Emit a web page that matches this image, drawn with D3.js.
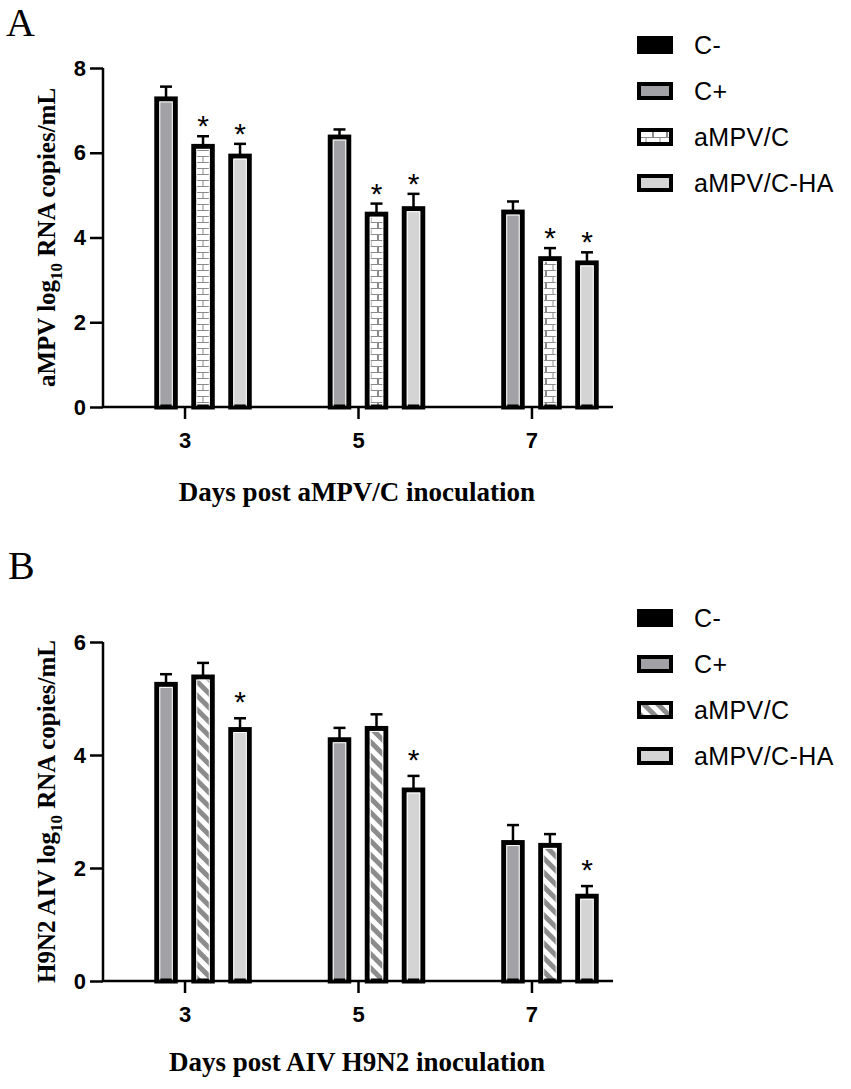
<!DOCTYPE html>
<html>
<head>
<meta charset="utf-8">
<script src="https://cdn.jsdelivr.net/npm/d3@7"></script>
<style>
  body { margin: 0; background: #fff; }
  svg { display: block; }
</style>
</head>
<body>
<div id="chart"></div>
<script>
const width = 851;
const height = 1089;

const days = ["3", "5", "7"];
const groups = ["C-", "C+", "aMPV/C", "aMPV/C-HA"];

// panel A: aMPV load (mean, sd) per group, per day
const aMean = {
  "C-": [0, 0, 0],
  "C+": [7.27, 6.37, 4.6],
  "aMPV/C": [6.15, 4.55, 3.5],
  "aMPV/C-HA": [5.92, 4.68, 3.4]
};
const aSd = {
  "C-": [0, 0, 0],
  "C+": [0.29, 0.18, 0.25],
  "aMPV/C": [0.24, 0.25, 0.25],
  "aMPV/C-HA": [0.29, 0.35, 0.25]
};
const aStars = { "aMPV/C": [1, 1, 1], "aMPV/C-HA": [1, 1, 1] };
const aTicks = [0, 2, 4, 6, 8];

// panel B: H9N2 load
const bMean = {
  "C-": [0, 0, 0],
  "C+": [5.25, 4.27, 2.45],
  "aMPV/C": [5.38, 4.47, 2.4],
  "aMPV/C-HA": [4.45, 3.38, 1.5]
};
const bSd = {
  "C-": [0, 0, 0],
  "C+": [0.18, 0.21, 0.31],
  "aMPV/C": [0.25, 0.25, 0.2],
  "aMPV/C-HA": [0.2, 0.25, 0.18]
};
const bStars = { "aMPV/C-HA": [1, 1, 1] };
const bTicks = [0, 2, 4, 6];

const svg = d3.select("#chart")
  .append("svg")
  .attr("width", width)
  .attr("height", height);

const defs = svg.append("defs");

// brick pattern for aMPV/C in panel A
const brick = defs.append("pattern")
  .attr("id", "brick")
  .attr("patternUnits", "userSpaceOnUse")
  .attr("width", 14)
  .attr("height", 12);
brick.append("rect").attr("width", 14).attr("height", 12).attr("fill", "#fff");
brick.append("path")
  .attr("d", "M0,0.5H14M0,6.5H14M7,0.5V6.5M0.5,6.5V12M13.5,6.5V12")
  .attr("stroke", "#8a8a8a")
  .attr("stroke-width", 1)
  .attr("fill", "none");

// diagonal stripes for aMPV/C in panel B
const stripe = defs.append("pattern")
  .attr("id", "stripe")
  .attr("patternUnits", "userSpaceOnUse")
  .attr("width", 10)
  .attr("height", 10)
  .attr("patternTransform", "rotate(45)");
stripe.append("rect").attr("width", 10).attr("height", 10).attr("fill", "#fff");
stripe.append("rect").attr("width", 10).attr("height", 5).attr("fill", "#8c8c8c");

const fillA = { "C-": "#000", "C+": "#a2a2a6", "aMPV/C": "url(#brick)", "aMPV/C-HA": "#d4d4d4" };
const fillB = { "C-": "#000", "C+": "#a2a2a6", "aMPV/C": "url(#stripe)", "aMPV/C-HA": "#d4d4d4" };

const sans = "'Liberation Sans', Arial, sans-serif";
const serif = "'Liberation Serif', 'Times New Roman', serif";

function panel(opt) {
  const g = svg.append("g");
  const left = 103, right = 613;

  const x = d3.scalePoint().domain(days).range([left, right]).padding(0.47);
  const xb = d3.scaleBand().domain(groups).range([-74, 74]).paddingInner(0.5).paddingOuter(0.25);
  const y = d3.scaleLinear().domain([0, d3.max(opt.ticks)]).range([opt.bottom, opt.top]);

  // bars
  groups.forEach(grp => {
    days.forEach((d, i) => {
      const m = opt.mean[grp][i];
      const s = opt.sd[grp][i];
      const bx = x(d) + xb(grp);
      const cx = bx + xb.bandwidth() / 2;
      if (m <= 0) return;
      // error bar
      g.append("line")
        .attr("x1", cx).attr("x2", cx)
        .attr("y1", y(m)).attr("y2", y(m + s))
        .attr("stroke", "#000").attr("stroke-width", 2.5);
      g.append("line")
        .attr("x1", cx - 6).attr("x2", cx + 6)
        .attr("y1", y(m + s)).attr("y2", y(m + s))
        .attr("stroke", "#000").attr("stroke-width", 2.5);
      g.append("rect")
        .attr("x", bx).attr("width", xb.bandwidth())
        .attr("y", y(m)).attr("height", y(0) - y(m))
        .attr("fill", opt.fill[grp])
        .attr("stroke", "#000").attr("stroke-width", 5);
      g.append("rect")
        .attr("x", bx + 3).attr("width", xb.bandwidth() - 6)
        .attr("y", y(m) + 3).attr("height", Math.max(0, y(0) - y(m) - 3))
        .attr("fill", "none")
        .attr("stroke", "#fff").attr("stroke-width", 1);
      if (opt.stars[grp] && opt.stars[grp][i]) {
        g.append("text")
          .attr("x", cx).attr("y", y(m + s) - opt.starGap)
          .attr("text-anchor", "middle")
          .attr("font-family", sans)
          .attr("font-size", 30)
          .attr("dy", "0.6em")
          .text("*");
      }
    });
  });

  // y axis
  const yAxis = g.append("g")
    .attr("transform", `translate(${left},0)`)
    .call(d3.axisLeft(y).tickValues(opt.ticks).tickSize(13).tickPadding(4).tickFormat(d3.format("d")));
  yAxis.select(".domain").attr("d", `M0,${opt.top}V${opt.bottom}`);

  // x axis
  const xAxis = g.append("g")
    .attr("transform", `translate(0,${opt.bottom})`)
    .call(d3.axisBottom(x).tickSize(12).tickPadding(13));
  xAxis.select(".domain").attr("d", `M${left},0H${right}`);

  g.selectAll(".domain, .tick line")
    .attr("stroke", "#000").attr("stroke-width", 2.5);
  g.selectAll(".tick text")
    .attr("font-family", sans).attr("font-size", 22).attr("font-weight", "bold").attr("fill", "#000");

  // y title
  const yt = g.append("text")
    .attr("transform", `translate(${opt.yTitleX},${(opt.top + opt.bottom) / 2}) rotate(-90)`)
    .attr("text-anchor", "middle")
    .attr("font-family", serif).attr("font-size", 25).attr("font-weight", "bold");
  yt.append("tspan").text(opt.yTitle[0]);
  yt.append("tspan").attr("font-size", 17).attr("dy", 7).text("10");
  yt.append("tspan").attr("dy", -7).text(opt.yTitle[1]);

  // x title
  g.append("text")
    .attr("x", 357).attr("y", opt.xTitleY)
    .attr("text-anchor", "middle")
    .attr("dominant-baseline", "central")
    .attr("font-family", serif).attr("font-size", 27).attr("font-weight", "bold")
    .text(opt.xTitle);

  // panel letter
  g.append("text")
    .attr("x", opt.letterX).attr("y", opt.letterY)
    .attr("font-family", serif).attr("font-size", 40)
    .text(opt.letter);

  // legend
  const lg = g.append("g").selectAll("g")
    .data(groups)
    .join("g")
    .attr("transform", (d, i) => `translate(639,${opt.legendY + i * opt.legendStep})`);
  lg.append("rect")
    .attr("x", 0).attr("y", -7).attr("width", 32).attr("height", 14)
    .attr("fill", d => opt.fill[d])
    .attr("stroke", "#000").attr("stroke-width", 4);
  lg.append("text")
    .attr("x", 55).attr("y", 0)
    .attr("dominant-baseline", "central")
    .attr("font-family", sans).attr("font-size", 25).attr("letter-spacing", 0.4)
    .text(d => d);
}

panel({
  top: 68, bottom: 407,
  mean: aMean, sd: aSd, stars: aStars, ticks: aTicks,
  fill: fillA, starGap: 18,
  yTitle: ["aMPV log", " RNA copies/mL"], yTitleX: 55,
  xTitle: "Days post aMPV/C inoculation", xTitleY: 492,
  letter: "A", letterX: 6, letterY: 36,
  legendY: 45, legendStep: 46
});

panel({
  top: 642, bottom: 981,
  mean: bMean, sd: bSd, stars: bStars, ticks: bTicks,
  fill: fillB, starGap: 24,
  yTitle: ["H9N2 AIV log", " RNA copies/mL"], yTitleX: 55,
  xTitle: "Days post AIV H9N2 inoculation", xTitleY: 1062,
  letter: "B", letterX: 8, letterY: 579,
  legendY: 618, legendStep: 46
});
</script>
</body>
</html>
